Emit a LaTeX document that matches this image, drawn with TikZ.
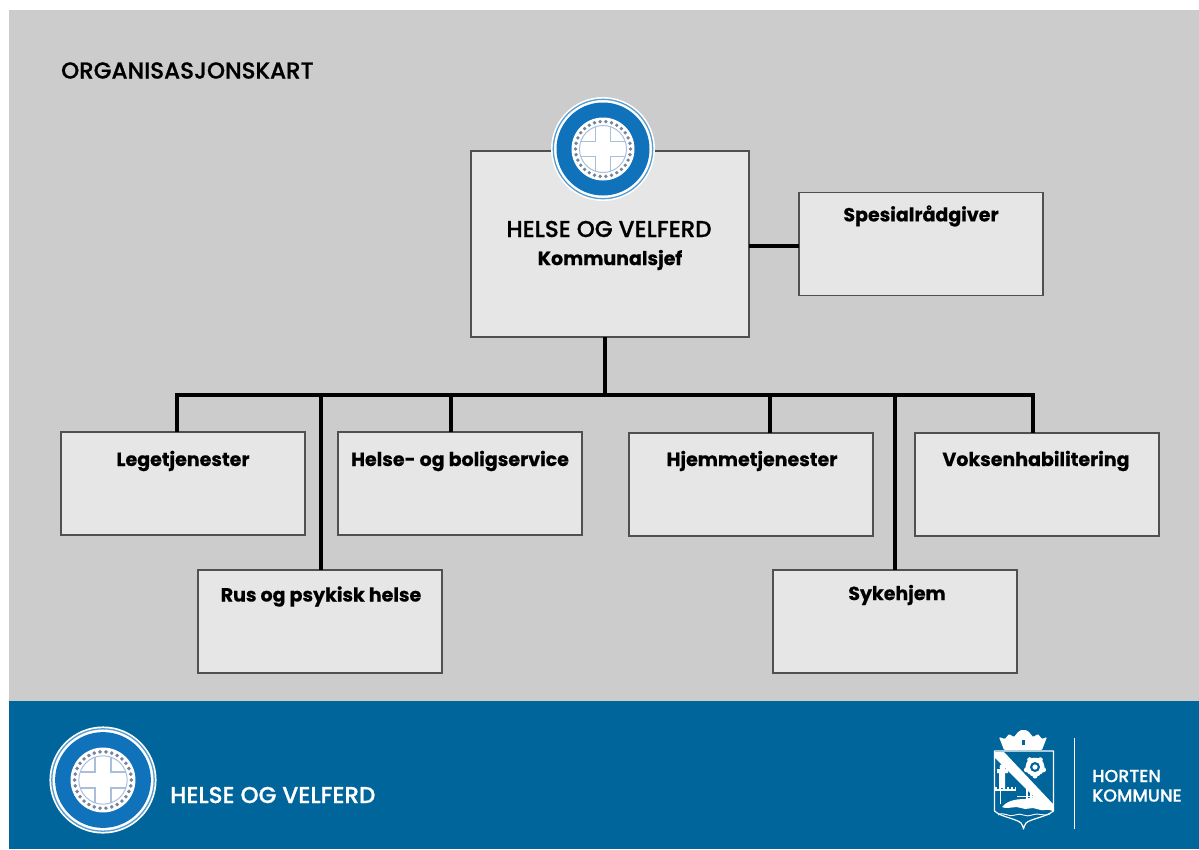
\documentclass[tikz,border=0pt]{standalone}
\usepackage{fontspec}
\usetikzlibrary{calc}
\setmainfont{Poppins}
\newfontfamily\semi[FakeBold=0.9]{Poppins Medium}
\newfontfamily\lightsemi[FakeBold=0.4]{Poppins Medium}
\newfontfamily\heavy[FakeBold=0.5]{Poppins Bold}
\definecolor{bgGrey}{HTML}{CCCCCC}
\definecolor{boxGrey}{HTML}{E6E6E6}
\definecolor{edgeGrey}{HTML}{505050}
\definecolor{footBlue}{HTML}{00659B}
\definecolor{logoBlue}{HTML}{0F72BA}
\definecolor{crossBlue}{HTML}{A9BEDD}
\tikzset{
  unitbox/.style={draw=edgeGrey,line width=1.3pt,fill=boxGrey,minimum width=244pt,minimum height=103pt,outer sep=0pt,inner sep=0pt},
  conn/.style={line width=4pt,black},
  connthin/.style={line width=3.4pt,black},
  boxlabel/.style={font=\fontsize{19}{20}\selectfont\heavy,inner sep=0pt,anchor=center},
  whitetext/.style={text=white,inner sep=0pt,anchor=west},
}
\newcommand{\hvlogo}[3]{%
  \begin{scope}[shift={(#1,#2)},scale=#3]
    \fill[white] (0,0) circle (52);
    \draw[logoBlue!70,line width=1.3pt] (0,0) circle (49.7);
    \fill[logoBlue] (0,0) circle (46.5);
    \fill[white] (0,0) circle (31.5);
    \foreach \a in {0,12,...,348}{\fill[crossBlue!70!black] (\a:27.5) circle (1.9);}
    \draw[crossBlue,line width=1pt] (0,0) circle (23.5);
    \begin{scope}
      \clip (0,0) circle (23.5);
      \draw[crossBlue,line width=1.7pt] (-30,-7.5) -- (-7.5,-7.5) -- (-7.5,-30) (7.5,-30) -- (7.5,-7.5) -- (30,-7.5) (30,7.5) -- (7.5,7.5) -- (7.5,30) (-7.5,30) -- (-7.5,7.5) -- (-30,7.5);
    \end{scope}
  \end{scope}}
\begin{document}
\begin{tikzpicture}[x=1pt,y=-1pt]
\useasboundingbox (0,0) rectangle (1199,849);
\fill[white] (0,0) rectangle (1199,849);
\fill[bgGrey] (9,10) rectangle (1199,701);
\fill[footBlue] (9,701) rectangle (1199,849);

\node[inner sep=0pt,anchor=west,font=\fontsize{23}{26}\selectfont\semi] (title) at (61,70.5) {ORGANISASJONSKART};

% boxes
\node[unitbox,minimum width=278pt,minimum height=186pt] (main) at (610,244) {};
\node[unitbox] (spes) at (921,244) {};
\node[unitbox] (lege) at (183,483.5) {};
\node[unitbox] (boli) at (460,483.5) {};
\node[unitbox] (hjem) at (751,484.5) {};
\node[unitbox] (voks) at (1037,484.5) {};
\node[unitbox] (rus) at (320,621.5) {};
\node[unitbox] (syke) at (895,621.5) {};

% bus
\coordinate (drop) at (605,395);
\coordinate (busL) at (177,395);
\coordinate (busR) at (1033,395);
\coordinate (busRus) at (321,395);
\coordinate (busBoli) at (451,395);
\coordinate (busHjem) at (770,395);
\coordinate (busSyke) at (895,395);
\coordinate (spesIn) at (799,245.5);

\draw[conn] (main.east |- spesIn) -- (spesIn);
\draw[conn] (drop |- main.south) -- (drop);
\draw[conn,line cap=rect] (busL) -- (busR);
\draw[connthin] (busL) -- (busL |- lege.north);
\draw[conn] (busRus) -- (busRus |- rus.north);
\draw[connthin] (busBoli) -- (busBoli |- boli.north);
\draw[connthin] (busHjem) -- (busHjem |- hjem.north);
\draw[conn] (busSyke) -- (syke.north);
\draw[connthin] (busR) -- (busR |- voks.north);

% labels
\node[boxlabel] (tlege) at (183,461) {Legetjenester};
\node[boxlabel] (tboli) at (460,461) {Helse- og boligservice};
\node[boxlabel] (thjem) at (752,461) {Hjemmetjenester};
\node[boxlabel] (tvoks) at (1036,461) {Voksenhabilitering};
\node[boxlabel] (trus) at (321,596.5) {Rus og psykisk helse};
\node[boxlabel] (tsyke) at (897,595) {Sykehjem};
\node[boxlabel] (tspes) at (921,216) {Spesialrådgiver};
\node[inner sep=0pt,font=\fontsize{23}{26}\selectfont\semi] (thv) at (609,229) {HELSE OG VELFERD};
\node[boxlabel] (tks) at (610,260) {Kommunalsjef};

\hvlogo{603}{149}{1}
\hvlogo{103}{780}{1.03}

% footer text
\node[whitetext,font=\fontsize{23}{26}\selectfont\semi] (fhv) at (170,795) {HELSE OG VELFERD};
\node[whitetext,font=\fontsize{17.5}{20}\selectfont\lightsemi] (fh) at (1092,776) {HORTEN};
\node[whitetext,font=\fontsize{17.5}{20}\selectfont\lightsemi] (fk) at (1092,795.5) {KOMMUNE};
\draw[white,line width=1.5pt] (1074.5,738) -- (1074.5,829);

% crest
\begin{scope}
  % crown
  \fill[white,rounded corners=1pt] (999,737) -- (1005,739) -- (1009,734) -- (1014,737) -- (1018,732) -- (1021,730) -- (1026,730) -- (1029,732) -- (1033,737) -- (1038,734) -- (1042,739) -- (1047,737) -- (1042,750) -- (1004,750) -- cycle;
  \fill[footBlue] (1022,740) rectangle (1025,745);
  % shield outline
  \draw[white,line width=1.2pt,line join=round] (994.5,751) -- (1053.5,751) -- (1053.5,811) .. controls (1046,817) and (1030,819) .. (1026,823) .. controls (1024.5,825) and (1024,827) .. (1023.5,829) .. controls (1023,827) and (1022.5,825) .. (1021,823) .. controls (1017,819) and (1001,817) .. (994.5,811) -- cycle;
  % diagonal band and shore
  \fill[white] (995,752) -- (1004,752) -- (1053,804) -- (1053,811) .. controls (1047,808) and (1043,812) .. (1037,809) .. controls (1031,806) and (1027,811) .. (1021,808) .. controls (1015,805) and (1009,810) .. (1002,807) .. controls (1006,802) and (1013,799) .. (1025,799) -- (1034,797) -- (995,758) -- cycle;
  % ship
  \draw[white,line width=1.2pt] (1027,788) -- (1027,799) (1031,786) -- (1031,799) (1035,790) -- (1035,799);
  \draw[white,line width=1pt] (1017,796) -- (1040,796);
  % tower and wall
  \fill[white] (997,769) -- (997,773) -- (999,773) -- (999,788) -- (1005,788) -- (1005,773) -- (1008,773) -- (1008,769) -- cycle;
  \fill[white] (1002.5,767) circle (3);
  \draw[white,line width=1.3pt] (995,790) -- (1016,790);
  \draw[white,line width=2pt,dash pattern=on 2pt off 2pt] (995,788) -- (1016,788);
  \draw[white,line width=.8pt] (1000,790) -- (1000,804);
  % waves
  \draw[white,line width=.9pt] (998,815) .. controls (1004,811) and (1009,818) .. (1015,815) .. controls (1021,812) and (1026,818) .. (1032,815) .. controls (1038,812) and (1043,817) .. (1050,814);
  % rose
  \fill[white] (1035,767) circle (9.5);
  \foreach \a in {18,90,162,234,306}{\fill[white] ($(1035,767)+(\a:9)$) circle (2.5);}
  \foreach \a in {54,126,198,270,342}{\fill[footBlue] ($(1035,767)+(\a:10)$) circle (1);}
  \fill[footBlue] (1035,767) circle (5);
  \fill[white] (1035,767) circle (2.6);
\end{scope}
\end{tikzpicture}
\end{document}
